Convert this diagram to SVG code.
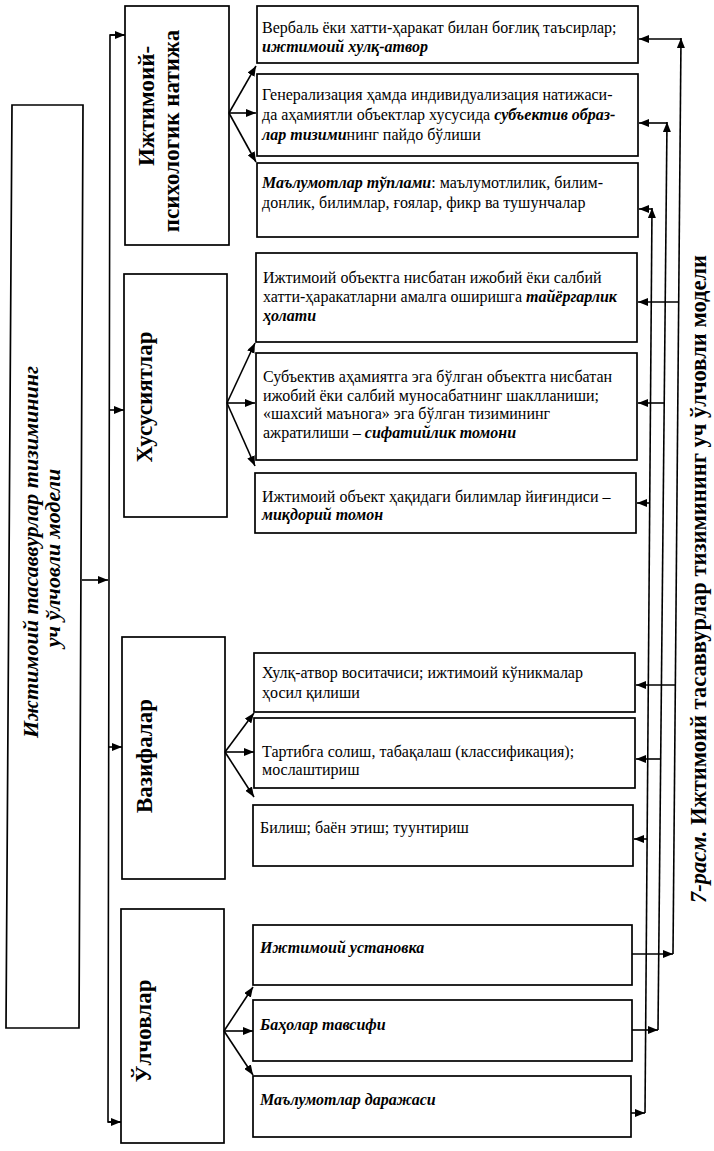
<svg xmlns="http://www.w3.org/2000/svg" width="714" height="1151" viewBox="0 0 714 1151">
<defs>
<style>
.box{fill:#fff;stroke:#000;stroke-width:1.7}
.t{font-family:"Liberation Serif","Times New Roman",serif;font-size:16px;fill:#000}
.bi{font-weight:bold;font-style:italic}
.lbl{font-family:"Liberation Serif","Times New Roman",serif;font-size:23px;font-weight:bold;fill:#000}
.ttl{font-family:"Liberation Serif","Times New Roman",serif;font-size:22px;font-weight:bold;font-style:italic;fill:#000}
.cap{font-family:"Liberation Serif","Times New Roman",serif;font-size:22.5px;font-weight:bold;fill:#000}
.c{fill:none;stroke:#000;stroke-width:1.6}
</style>
<marker id="ah" viewBox="0 0 10 8" refX="10" refY="4" markerWidth="10" markerHeight="8" markerUnits="userSpaceOnUse" orient="auto"><path d="M0,0 L10,4 L0,8 z" fill="#000"/></marker>
</defs>
<rect width="714" height="1151" fill="#fff"/>

<g id="root">
<polygon class="box" points="12,105 83,105 79,1028 6,1028"/>
<text class="ttl" text-anchor="middle" transform="translate(38,552) rotate(-90)">Ижтимоий тасаввурлар тизимининг</text>
<text class="ttl" text-anchor="middle" transform="translate(60,558) rotate(-90)">уч ўлчовли модели</text>
</g>

<g id="cat1">
<rect class="box" x="125" y="6" width="104" height="239"/>
<text class="lbl" text-anchor="middle" font-size="25" transform="translate(154,106) rotate(-90)">Ижтимоий-</text>
<text class="lbl" text-anchor="middle" transform="translate(179,131) rotate(-90)">психологик натижа</text>
</g>
<g id="cat2">
<rect class="box" x="124" y="274" width="103" height="243"/>
<text class="lbl" text-anchor="middle" transform="translate(152,397) rotate(-90)">Хусусиятлар</text>
</g>
<g id="cat3">
<rect class="box" x="122" y="637" width="103" height="242"/>
<text class="lbl" text-anchor="middle" transform="translate(152,756) rotate(-90)">Вазифалар</text>
</g>
<g id="cat4">
<rect class="box" x="121" y="909" width="103" height="234"/>
<text class="lbl" text-anchor="middle" transform="translate(151,1031) rotate(-90)">Ўлчовлар</text>
</g>

<g id="r1">
<rect class="box" x="257" y="6" width="381" height="57"/>
<text class="t" x="262" y="33">Вербаль ёки хатти-ҳаракат билан боғлиқ таъсирлар;</text>
<text class="t bi" x="262" y="52">ижтимоий хулқ-атвор</text>
</g>
<g id="r2">
<rect class="box" x="257" y="74" width="381" height="82"/>
<text class="t" x="262" y="100">Генерализация ҳамда индивидуализация натижаси-</text>
<text class="t" x="262" y="120">да аҳамиятли объектлар хусусида <tspan class="bi">субъектив образ-</tspan></text>
<text class="t" x="262" y="140"><tspan class="bi">лар тизими</tspan>нинг пайдо бўлиши</text>
</g>
<g id="r3">
<rect class="box" x="257" y="163" width="381" height="74"/>
<text class="t" x="262" y="188"><tspan class="bi">Маълумотлар тўплами</tspan>: маълумотлилик, билим-</text>
<text class="t" x="262" y="208">донлик, билимлар, ғоялар, фикр ва тушунчалар</text>
</g>
<g id="r4">
<rect class="box" x="256" y="253" width="381" height="89"/>
<text class="t" x="263" y="283">Ижтимоий объектга нисбатан ижобий ёки салбий</text>
<text class="t" x="263" y="302">хатти-ҳаракатларни амалга оширишга <tspan class="bi">тайёргарлик</tspan></text>
<text class="t bi" x="263" y="321">ҳолати</text>
</g>
<g id="r5">
<rect class="box" x="256" y="353" width="381" height="107"/>
<text class="t" x="263" y="382">Субъектив аҳамиятга эга бўлган объектга нисбатан</text>
<text class="t" x="263" y="401">ижобий ёки салбий муносабатнинг шаклланиши;</text>
<text class="t" x="263" y="419">«шахсий маънога» эга бўлган тизимининг</text>
<text class="t" x="263" y="438">ажратилиши – <tspan class="bi">сифатийлик томони</tspan></text>
</g>
<g id="r6">
<rect class="box" x="255" y="473" width="381" height="60"/>
<text class="t" x="262" y="502">Ижтимоий объект ҳақидаги билимлар йиғиндиси –</text>
<text class="t bi" x="262" y="520">миқдорий томон</text>
</g>
<g id="r7">
<rect class="box" x="254" y="653" width="381" height="59"/>
<text class="t" x="262" y="678">Хулқ-атвор воситачиси; ижтимоий кўникмалар</text>
<text class="t" x="262" y="698">ҳосил қилиши</text>
</g>
<g id="r8">
<rect class="box" x="254" y="718" width="381" height="70"/>
<text class="t" x="262" y="757">Тартибга солиш, табақалаш (классификация);</text>
<text class="t" x="262" y="775">мослаштириш</text>
</g>
<g id="r9">
<rect class="box" x="253" y="805" width="380" height="61"/>
<text class="t" x="260" y="833">Билиш; баён этиш; туунтириш</text>
</g>
<g id="r10">
<rect class="box" x="253" y="925" width="379" height="60"/>
<text class="t bi" x="260" y="953">Ижтимоий установка</text>
</g>
<g id="r11">
<rect class="box" x="253" y="1000" width="379" height="61"/>
<text class="t bi" x="260" y="1030">Баҳолар тавсифи</text>
</g>
<g id="r12">
<rect class="box" x="253" y="1076" width="378" height="61"/>
<text class="t bi" x="260" y="1105">Маълумотлар даражаси</text>
</g>

<g id="caption">
<text class="cap" text-anchor="middle" transform="translate(706,579) rotate(-90)"><tspan font-style="italic">7-расм.</tspan> Ижтимоий тасаввурлар тизимининг уч ўлчовли модели</text>
</g>

<g id="connectors">
<line class="c" x1="82" y1="580" x2="108" y2="580" marker-end="url(#ah)"/>
<polyline class="c" points="124,35 110,35 108,1122 121,1122"/>
<line class="c" x1="110" y1="35" x2="125" y2="35" marker-end="url(#ah)"/>
<line class="c" x1="108" y1="1122" x2="121" y2="1122" marker-end="url(#ah)"/>
<line class="c" x1="109" y1="410" x2="124" y2="410" marker-end="url(#ah)"/>
<line class="c" x1="108" y1="747" x2="122" y2="747" marker-end="url(#ah)"/>
<line class="c" x1="229" y1="113" x2="256" y2="66" marker-end="url(#ah)"/>
<line class="c" x1="229" y1="113" x2="256" y2="113" marker-end="url(#ah)"/>
<line class="c" x1="229" y1="113" x2="256" y2="162" marker-end="url(#ah)"/>
<line class="c" x1="227" y1="403" x2="255" y2="343" marker-end="url(#ah)"/>
<line class="c" x1="227" y1="403" x2="255" y2="403" marker-end="url(#ah)"/>
<line class="c" x1="227" y1="403" x2="255" y2="466" marker-end="url(#ah)"/>
<line class="c" x1="225" y1="752" x2="254" y2="713" marker-end="url(#ah)"/>
<line class="c" x1="225" y1="752" x2="254" y2="752" marker-end="url(#ah)"/>
<line class="c" x1="225" y1="752" x2="254" y2="797" marker-end="url(#ah)"/>
<line class="c" x1="224" y1="1031" x2="253" y2="987" marker-end="url(#ah)"/>
<line class="c" x1="224" y1="1031" x2="253" y2="1031" marker-end="url(#ah)"/>
<line class="c" x1="224" y1="1031" x2="253" y2="1075" marker-end="url(#ah)"/>
<line class="c" x1="632" y1="954" x2="673" y2="954" marker-end="url(#ah)"/>
<line class="c" x1="632" y1="1030" x2="658" y2="1030" marker-end="url(#ah)"/>
<line class="c" x1="631" y1="1113" x2="645" y2="1113" marker-end="url(#ah)"/>
<line class="c" x1="673" y1="954" x2="681" y2="38" marker-end="url(#ah)"/>
<line class="c" x1="658" y1="1030" x2="667" y2="122" marker-end="url(#ah)"/>
<line class="c" x1="645" y1="1113" x2="652" y2="208" marker-end="url(#ah)"/>
<line class="c" x1="681" y1="39" x2="639" y2="39" marker-end="url(#ah)"/>
<line class="c" x1="679" y1="302" x2="638" y2="302" marker-end="url(#ah)"/>
<line class="c" x1="675" y1="685" x2="636" y2="685" marker-end="url(#ah)"/>
<line class="c" x1="667" y1="123" x2="639" y2="123" marker-end="url(#ah)"/>
<line class="c" x1="664" y1="403" x2="638" y2="403" marker-end="url(#ah)"/>
<line class="c" x1="661" y1="759" x2="636" y2="759" marker-end="url(#ah)"/>
<line class="c" x1="652" y1="209" x2="639" y2="209" marker-end="url(#ah)"/>
<line class="c" x1="650" y1="503" x2="637" y2="503" marker-end="url(#ah)"/>
<line class="c" x1="647" y1="839" x2="634" y2="839" marker-end="url(#ah)"/>
</g>
</svg>
